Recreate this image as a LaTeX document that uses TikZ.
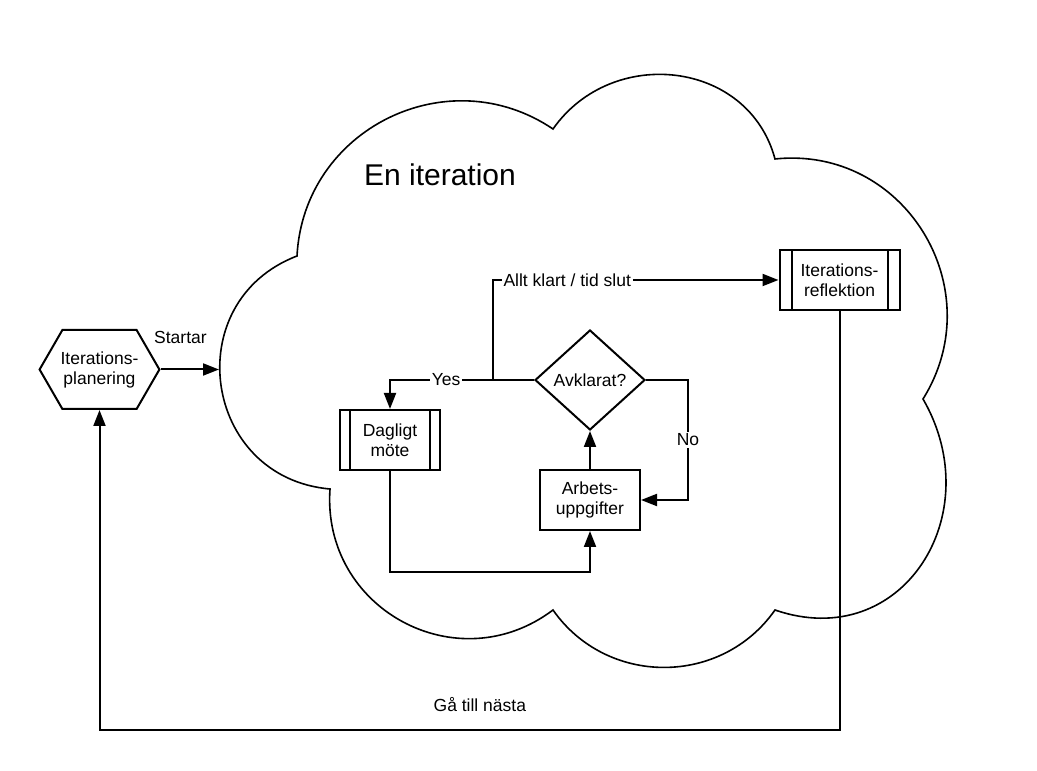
\documentclass[tikz,border=0pt]{standalone}
\usepackage{fontspec}
\setmainfont{Liberation Sans}
\usetikzlibrary{shapes.geometric,shapes.symbols,arrows.meta,positioning}

\begin{document}
\begin{tikzpicture}[x=1pt,y=1pt,
  every node/.style={font=\fontsize{17.5}{20}\selectfont,align=center},
  box/.style={draw,line width=2pt,minimum width=100pt,minimum height=60pt,inner sep=2pt},
  subproc/.style={box,path picture={
      \draw[line width=2pt]
        ([xshift=#1]path picture bounding box.north west) -- ([xshift=#1]path picture bounding box.south west)
        ([xshift=-#1]path picture bounding box.north east) -- ([xshift=-#1]path picture bounding box.south east);}},
  flow/.style={line width=2pt,-{Triangle[length=16pt,width=12pt]}},
  lbl/.style={fill=white,inner sep=2pt}]
\useasboundingbox (0,0) rectangle (1037,771);

% the iteration cloud
\draw[line width=1.6pt] (297,515)
  to[out=201,in=175,looseness=1.39] (330,282)
  to[out=266,in=217,looseness=1.21] (553,161)
  to[out=305,in=235,looseness=1.08] (775,161)
  to[out=341,in=300,looseness=1.33] (923,372)
  to[out=58,in=6,looseness=1.18] (775,612)
  to[out=105,in=55,looseness=1.17] (553,642)
  to[out=146,in=87,looseness=1.14] cycle;
\node[font=\fontsize{30}{36}\selectfont] (title) at (440,596) {En iteration};

\node[signal,signal to=west and east,signal pointer angle=120,draw,line width=2pt,
  minimum height=79pt,inner ysep=0pt,inner xsep=-1.8pt] (plan) at (99.5,401.5) {Iterations-\\planering};
\node[subproc=10pt] (dag) at (390,331) {Dagligt\\möte};
\node[box] (arb) at (590,271) {Arbets-\\uppgifter};
\node[diamond,draw,line width=2pt,minimum width=110pt,minimum height=100pt,inner sep=0pt] (avk) at (590,391) {Avklarat?};
\node[subproc=12pt,minimum width=120pt] (refl) at (839.5,491) {Iterations-\\reflektion};

\coordinate (cloudW) at (219,401.5);
\coordinate (split) at (493,391);

\draw[flow] (plan.east) -- node[above=22.5pt,pos=0.34,inner sep=2pt] {Startar} (cloudW);
\draw[flow] (avk.west) -| node[lbl,pos=0.305] {Yes} (dag.north);
\draw[flow] (split) |- node[lbl,pos=0.63] {Allt klart / tid slut} (refl.west);
\draw[flow] (avk.east) -- ++(42,0) |- node[lbl,pos=0.25] {No} (arb.east);
\draw[flow] (arb.north) -- (avk.south);
\draw[flow] (dag.south) -- ++(0,-101) -| (arb.south);
\draw[flow] (refl.south) -- ++(0,-419) -| node[above=15.3pt,pos=0.243,inner sep=2pt] {Gå till nästa} (plan.south);
\end{tikzpicture}
\end{document}
